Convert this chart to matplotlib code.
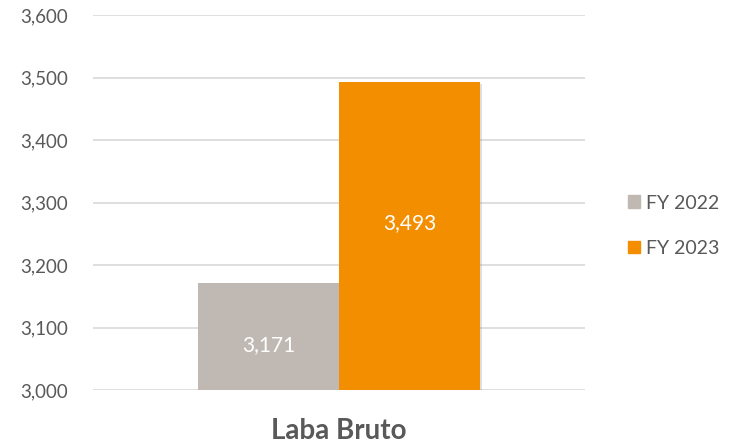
import matplotlib
matplotlib.use("Agg")
from matplotlib import pyplot as plt
from matplotlib import patheffects as pe
from matplotlib.patches import Patch

series = ["FY 2022", "FY 2023"]
values = [3171, 3493]
colors = ["#BFB8B3", "#F28E00"]
category = "Laba Bruto"
yticks = [3000, 3100, 3200, 3300, 3400, 3500, 3600]

plt.rcParams['font.family'] = ['Lato', 'DejaVu Sans']

fig = plt.figure(figsize=(7.35, 4.47), dpi=100)
ax = fig.add_axes([93/735, 1-390/447, 492/735, 375/447])

w = 0.573
xs = [-w/2, w/2]
bars = ax.bar(xs, [v - 3000 for v in values], width=w, bottom=3000,
              color=colors, zorder=3)
for b in bars:
    b.set_path_effects([pe.SimplePatchShadow(offset=(1.5, -1.5), alpha=0.25, shadow_rgbFace='gray'), pe.Normal()])
# label offsets as Excel places them
for x, v, off in zip(xs, values, [-13, 21]):
    ax.text(x, 3000 + (v - 3000)/2 + off, f"{v:,}", ha='center', va='center',
            color='white', fontsize=15, zorder=4)

ax.set_xlim(-1, 1)
ax.set_ylim(3000, 3600)
ax.set_yticks(yticks)
ax.set_yticklabels([f"{t:,}" for t in yticks])
ax.yaxis.grid(True, color='#D9D9D9', linewidth=1.2, zorder=0)
ax.tick_params(axis='y', length=0, pad=18, labelsize=13.5, labelcolor='#595959')
ax.set_xticks([0])
ax.set_xticklabels([category])
ax.tick_params(axis='x', length=0, pad=20, labelsize=20, labelcolor='#595959')
for lbl in ax.get_xticklabels():
    lbl.set_fontweight('bold')
for s in ax.spines.values():
    s.set_visible(False)

handles = [Patch(color=c, label=s) for c, s in zip(colors, series)]
fig.legend(handles=handles, loc='center left', bbox_to_anchor=(0.83, 0.495),
           frameon=False, fontsize=14, labelcolor='#595959',
           handlelength=0.65, handleheight=0.65, handletextpad=0.3,
           labelspacing=1.45)

fig.savefig("out.png", dpi=100)
